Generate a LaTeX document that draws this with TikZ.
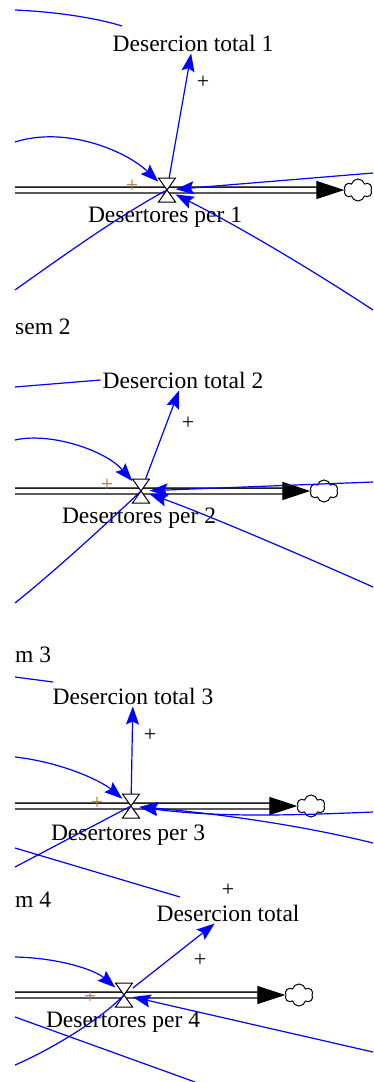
\documentclass[tikz,border=0pt]{standalone}
\usepackage{fontspec}
\setmainfont{Liberation Serif}
\usepackage{tikz}
\usetikzlibrary{arrows.meta,shapes.symbols}
\definecolor{signc}{HTML}{B07830}

\tikzset{
  lbl/.style={font=\fontsize{23.5}{26}\selectfont, inner sep=2pt},
  sign/.style={font=\fontsize{22}{24}\selectfont, inner sep=0pt},
  wire/.style={blue, line width=1.2pt},
  link/.style={wire, -{Stealth[length=18pt,width=13pt,inset=3pt]}},
  pipe/.style={draw=black, line width=1.3pt, double=white, double distance=4.5pt,
    -{Triangle[length=28pt,width=18pt]}},
  sink/.style={cloud, draw, fill=white, line width=1pt, cloud puffs=6,
    minimum width=28pt, minimum height=22pt, inner sep=0pt, aspect=1.3},
  valvebox/.style={minimum width=17pt, minimum height=24pt, inner sep=0pt},
  valve/.pic={\draw[fill=white, line width=1pt]
    (-8.5,-12)--(8.5,-12)--(-8.5,12)--(8.5,12)--cycle;}
}

\begin{document}
\begin{tikzpicture}[x=1pt,y=-1pt]
 \useasboundingbox[fill=white] (0,0) rectangle (373,1082);
 % flows: pipe, valve, cloud
 \foreach \i/\y/\vx/\cx in {1/190/167/358,2/491/141/324,3/806/131/311,4/995/124/299}{
   \coordinate (p\i) at (15,\y);
   \node[sink] (cl\i) at (\cx,\y) {};
   \draw[pipe] (p\i) -- (cl\i.west);
   \node[valvebox] (v\i) at (\vx,\y) {};
   \pic at (v\i) {valve};
 }
 % labels
 \node[lbl] (dt1) at (193,43) {Desercion total 1};
 \node[lbl] (dp1) at (165,217) {Desertores per 1};
 \node[lbl] (dt2) at (183,380) {Desercion total 2};
 \node[lbl] (dp2) at (139,518) {Desertores per 2};
 \node[lbl] (dt3) at (133,696) {Desercion total 3};
 \node[lbl] (dp3) at (128,835) {Desertores per 3};
 \node[lbl] (dt4) at (228,913) {Desercion total};
 \node[lbl] (dp4) at (123,1022) {Desertores per 4};
 \node[lbl,anchor=west,inner sep=0pt] (st2) at (15,327) {sem 2};
 \node[lbl,anchor=west,inner sep=0pt] (st3) at (15,655) {m 3};
 \node[lbl,anchor=west,inner sep=0pt] (st4) at (15,900) {m 4};
 % free ends
 \coordinate (a1) at (15,10);   \coordinate (b1) at (122,26);
 \coordinate (l1) at (15,142);  \coordinate (r1) at (373,173);
 \coordinate (q1) at (373,310); \coordinate (w1) at (15,290);
 \coordinate (a2) at (15,387);  \coordinate (l2) at (15,440);
 \coordinate (r2) at (373,482); \coordinate (q2) at (373,587);
 \coordinate (w2) at (15,603);
 \coordinate (a3) at (15,677);  \coordinate (b3) at (53,682);
 \coordinate (l3) at (15,757);  \coordinate (r3) at (373,812);
 \coordinate (q3) at (373,843); \coordinate (w3) at (15,867);
 \coordinate (a4) at (15,848);  \coordinate (b4) at (180,897);
 \coordinate (l4) at (15,957);  \coordinate (r4) at (373,1052);
 \coordinate (c4) at (15,1017); \coordinate (d4) at (195,1082);
 \coordinate (w4) at (15,1065);
 % section 1
 \draw[wire] (a1) .. controls (60,12) and (100,19) .. (b1);
 \draw[link] (l1) .. controls (65,126) and (125,150) .. (v1);
 \draw[link] (r1) -- (v1);
 \draw[link] (q1) .. controls (300,262) and (230,222) .. (v1);
 \draw[wire] (w1) .. controls (60,258) and (120,215) .. (v1.center);
 \draw[link] (v1) -- (dt1);
 % section 2
 \draw[wire] (a2) -- (dt2.west);
 \draw[link] (l2) .. controls (50,432) and (105,450) .. (v2);
 \draw[link] (r2) -- (v2);
 \draw[link] (q2) .. controls (290,550) and (200,512) .. (v2);
 \draw[wire] (w2) .. controls (50,575) and (100,530) .. (v2.center);
 \draw[link] (v2) -- (dt2);
 % section 3
 \draw[wire] (a3) -- (b3);
 \draw[link] (l3) .. controls (60,762) and (100,780) .. (v3);
 \draw[link] (r3) .. controls (300,815) and (220,818) .. (v3);
 \draw[link] (q3) .. controls (300,825) and (220,814) .. (v3);
 \draw[wire] (w3) -- (v3.center);
 \draw[wire] (a4) -- (b4);
 \draw[link] (v3) -- (dt3);
 % section 4
 \draw[link] (l4) .. controls (60,958) and (95,970) .. (v4);
 \draw[link] (r4) -- (v4);
 \draw[wire] (c4) -- (d4);
 \draw[wire] (w4) .. controls (50,1050) and (100,1020) .. (v4.center);
 \draw[link] (v4) -- (dt4);
 % polarity signs
 \node[sign] (s1) at (203,82) {+};
 \node[sign,signc] (t1) at (132,186) {+};
 \node[sign] (s2) at (188,423) {+};
 \node[sign,signc] (t2) at (107,485) {+};
 \node[sign] (s3) at (150,735) {+};
 \node[sign,signc] (t3) at (97,803) {+};
 \node[sign] (s4) at (200,960) {+};
 \node[sign,signc] (t4) at (90,997) {+};
 \node[sign] (u4) at (228,890) {+};
\end{tikzpicture}
\end{document}
